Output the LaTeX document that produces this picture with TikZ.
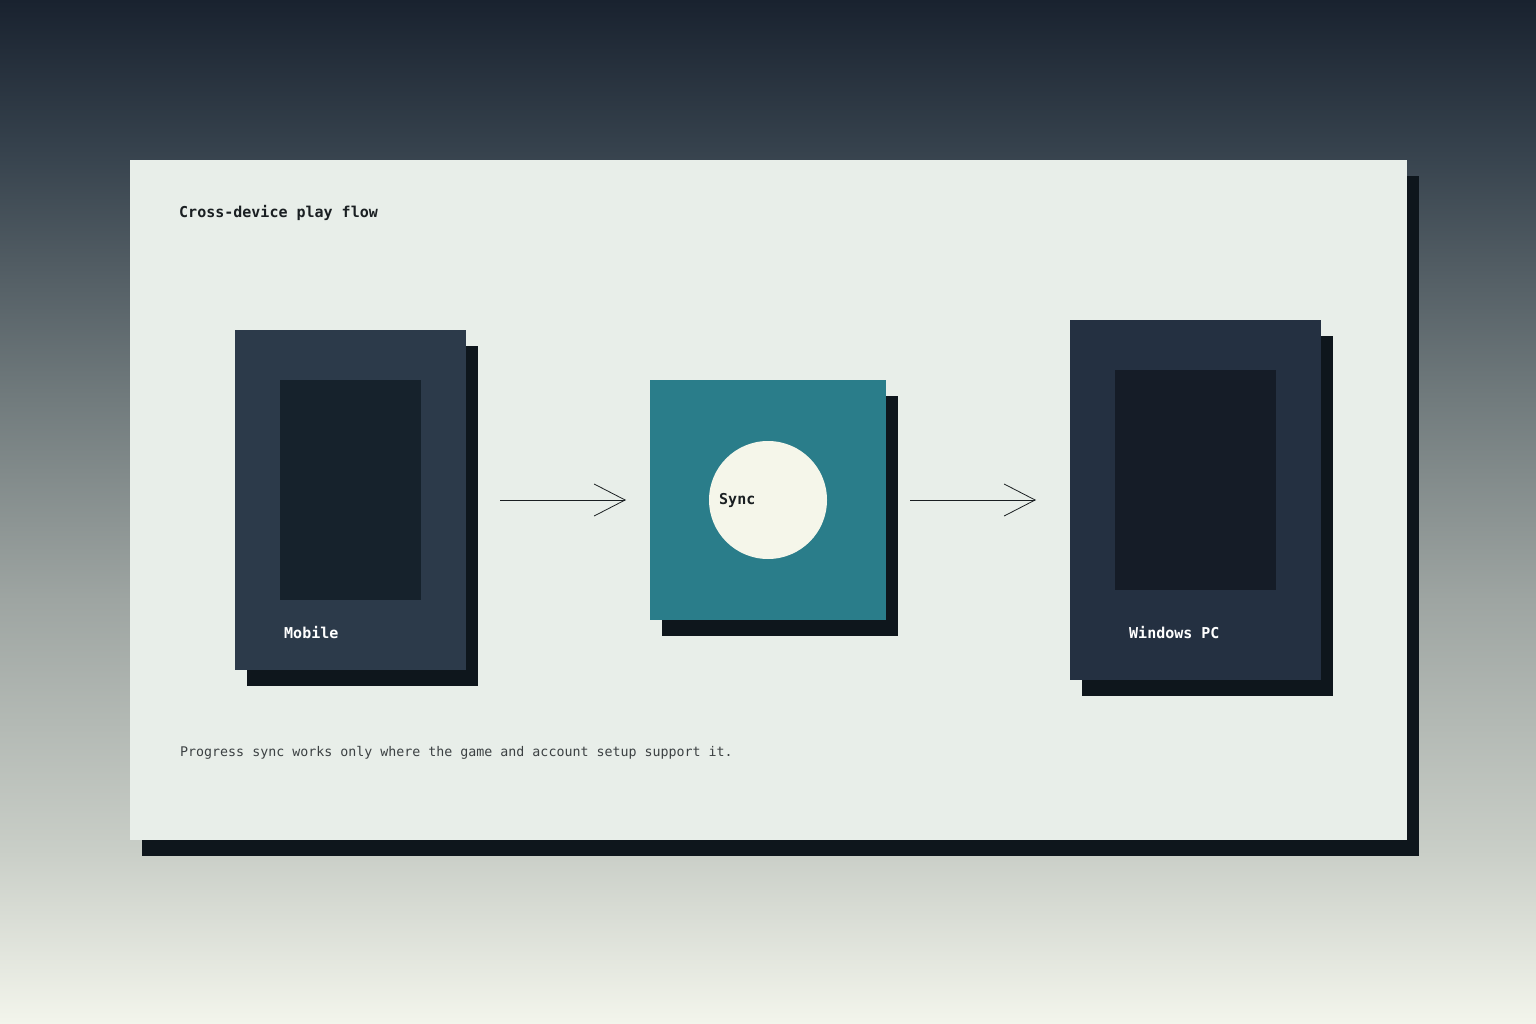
\documentclass[tikz,border=0pt]{standalone}
\usepackage{fontspec}
\setmonofont{DejaVu Sans Mono}
\usetikzlibrary{arrows.meta,positioning}
\definecolor{bgtop}{HTML}{19222F}
\definecolor{bgmidA}{HTML}{36424D}
\definecolor{bgmidB}{HTML}{717B7D}
\definecolor{bgmidC}{HTML}{9EA5A2}
\definecolor{bgmidD}{HTML}{C9CEC7}
\definecolor{bgbot}{HTML}{F3F5EC}
\definecolor{card}{HTML}{E8EEE9}
\definecolor{shadowc}{HTML}{0E161C}
\definecolor{mobilec}{HTML}{2C3A4A}
\definecolor{mobilescr}{HTML}{16222C}
\definecolor{pcc}{HTML}{243041}
\definecolor{pcscr}{HTML}{151C27}
\definecolor{syncc}{HTML}{2A7D8A}
\definecolor{disc}{HTML}{F5F6EA}
\definecolor{inkc}{HTML}{1A1F22}
% the path box is mapped onto 25bp..75bp of the shading
\pgfdeclareverticalshading{bggrad}{100bp}{color(0bp)=(bgbot); color(25bp)=(bgbot); color(33.5bp)=(bgmidD); color(45.7bp)=(bgmidC); color(55.5bp)=(bgmidB); color(67.7bp)=(bgmidA); color(75bp)=(bgtop); color(100bp)=(bgtop)}
\begin{document}
\begin{tikzpicture}[x=1pt,y=-1pt,font=\ttfamily,
    shadowed/.style={fill=#1,minimum width=0pt,inner sep=0pt,outer sep=0pt},
    devlabel/.style={text=white,font=\ttfamily\bfseries\fontsize{15}{18}\selectfont,anchor=west,inner sep=0pt},
    flowarrow/.style={draw=inkc,line width=0.8pt,-{Straight Barb[length=31pt,width=32pt,line width=0.8pt]}}]
  \useasboundingbox (0,0) rectangle (1536,1024);
  \shade[shading=bggrad] (0,0) rectangle (1536,1024);
  % card
  \fill[shadowc] (142,176) rectangle (1419,856);
  \fill[card] (130,160) rectangle (1407,840);
  \node[anchor=west,inner sep=0pt,text=inkc,font=\ttfamily\bfseries\fontsize{15}{18}\selectfont] (title) at (179,213) {Cross-device play flow};
  % mobile
  \fill[shadowc] (247,346) rectangle (478,686);
  \node[shadowed=mobilec,minimum width=231pt,minimum height=340pt] (mobile) at (350.5,500) {};
  \fill[mobilescr] (280,380) rectangle (421,600);
  \node[devlabel] (mobilelbl) at (284,633) {Mobile};
  % sync
  \fill[shadowc] (662,396) rectangle (898,636);
  \node[shadowed=syncc,minimum width=236pt,minimum height=240pt] (sync) at (768,500) {};
  \fill[disc] (sync.center) circle (59);
  \node[anchor=west,inner sep=0pt,text=inkc,font=\ttfamily\bfseries\fontsize{15}{18}\selectfont] (synclbl) at (719,500) {Sync};
  % windows pc
  \fill[shadowc] (1082,336) rectangle (1333,696);
  \node[shadowed=pcc,minimum width=251pt,minimum height=360pt] (pc) at (1195.5,500) {};
  \fill[pcscr] (1115,370) rectangle (1276,590);
  \node[devlabel] (pclbl) at (1129,633) {Windows PC};
  % arrows
  \draw[flowarrow] ([xshift=34pt]mobile.east) -- ([xshift=-24pt]sync.west);
  \draw[flowarrow] ([xshift=24pt]sync.east) -- ([xshift=-34pt]pc.west);
  \node[anchor=west,inner sep=0pt,text=inkc!85,font=\ttfamily\fontsize{13.3}{16}\selectfont] (note) at (180,753) {Progress sync works only where the game and account setup support it.};
\end{tikzpicture}
\end{document}
